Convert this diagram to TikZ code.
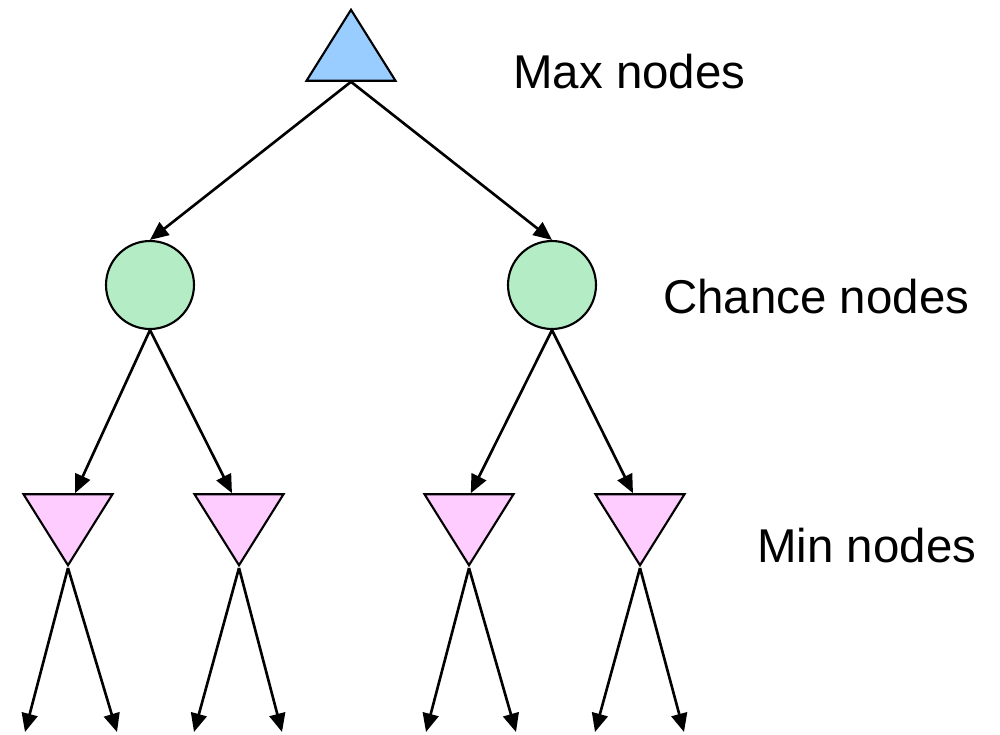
\documentclass[tikz,border=0pt]{standalone}
\usepackage{fontspec}
\setmainfont{Liberation Sans}
\usetikzlibrary{arrows.meta,shapes.geometric}
\definecolor{maxblue}{RGB}{153,204,255}
\definecolor{chancegreen}{RGB}{179,236,197}
\definecolor{minpink}{RGB}{255,204,255}
\tikzset{
  maxnode/.style={draw,line width=1.2pt,fill=maxblue,isosceles triangle,isosceles triangle stretches,
    shape border rotate=90,minimum width=1.78cm,minimum height=1.42cm,inner sep=0pt,anchor=apex},
  minnode/.style={maxnode,fill=minpink,shape border rotate=270},
  chancenode/.style={draw,line width=1.2pt,fill=chancegreen,circle,minimum size=1.76cm,inner sep=0pt},
  edge/.style={line width=1.5pt,-{Triangle[length=0.37cm,width=0.32cm]}},
  label/.style={anchor=base west,inner sep=0pt,font=\fontsize{27}{32}\selectfont}
}

\begin{document}
\begin{tikzpicture}[x=0.02cm,y=-0.02cm]
      \useasboundingbox (0,0) rectangle (1000,734);
      \node[maxnode] (top) at (351,7) {};
      \node[chancenode] (c1) at (150,285) {};
      \node[chancenode] (c2) at (552,285) {};
      \node[minnode] (m1) at (68,568) {};
      \node[minnode] (m2) at (239,568) {};
      \node[minnode] (m3) at (469,568) {};
      \node[minnode] (m4) at (640,568) {};
      % leaf ends
      \coordinate (l1) at (25,732);  \coordinate (r1) at (117,732);
      \coordinate (l2) at (194,732); \coordinate (r2) at (282,732);
      \coordinate (l3) at (426,732); \coordinate (r3) at (516,732);
      \coordinate (l4) at (595,732); \coordinate (r4) at (684,732);
      \draw[edge] (top.south) -- (c1.north);
      \draw[edge] (top.south) -- (c2.north);
      \draw[edge] (c1.south) -- ([xshift=4]m1.north);
      \draw[edge] (c1.south) -- ([xshift=-4]m2.north);
      \draw[edge] (c2.south) -- ([xshift=1]m3.north);
      \draw[edge] (c2.south) -- ([xshift=-4]m4.north);
      \foreach \i in {1,...,4} {
        \draw[edge] (m\i.apex) -- (l\i);
        \draw[edge] (m\i.apex) -- (r\i);
      }
      \node[label] (maxtext) at (513,88) {Max nodes};
      \node[label] (chancetext) at (663,313) {Chance nodes};
      \node[label] (mintext) at (757,562) {Min nodes};
    \end{tikzpicture}
\end{document}
